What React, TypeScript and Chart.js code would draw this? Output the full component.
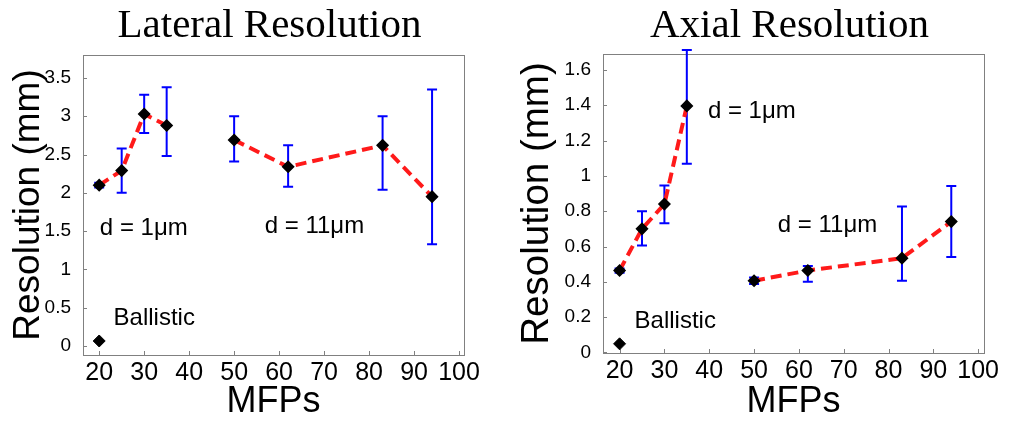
import React, { useEffect, useRef } from "react";
import { Chart, registerables } from "chart.js";
Chart.register(...registerables);

const SANS = "'Liberation Sans', Arial, Helvetica, sans-serif";
const SERIF = "'Liberation Serif', 'Times New Roman', serif";

const xTicks = [20, 30, 40, 50, 60, 70, 80, 90, 100];

// Lateral resolution
const latYTicks = [0, 0.5, 1, 1.5, 2, 2.5, 3, 3.5];
const latD1X = [20, 25, 30, 35];
const latD1Y = [2.1, 2.29, 3.03, 2.88];
const latD1Lo = [2.07, 2.0, 2.78, 2.48];
const latD1Hi = [2.13, 2.58, 3.28, 3.38];
const latD11X = [50, 62, 83, 94];
const latD11Y = [2.69, 2.34, 2.62, 1.95];
const latD11Lo = [2.41, 2.08, 2.04, 1.33];
const latD11Hi = [3.0, 2.62, 3.0, 3.35];
const latBallX = [20];
const latBallY = [0.065];

// Axial resolution
const axYTicks = [0, 0.2, 0.4, 0.6, 0.8, 1, 1.2, 1.4, 1.6];
const axD1X = [20, 25, 30, 35];
const axD1Y = [0.464, 0.7, 0.84, 1.396];
const axD1Lo = [0.452, 0.605, 0.732, 1.068];
const axD1Hi = [0.476, 0.8, 0.945, 1.713];
const axD11X = [50, 62, 83, 94];
const axD11Y = [0.406, 0.464, 0.534, 0.741];
const axD11Lo = [0.388, 0.4, 0.406, 0.54];
const axD11Hi = [0.424, 0.49, 0.826, 0.943];
const axBallX = [20];
const axBallY = [0.049];

// Text annotations (data coordinates, left aligned, baseline)
const latNotes = [
  { text: "d = 1μm", x: 20.15, y: 1.45 },
  { text: "d = 11μm", x: 56.8, y: 1.48 },
  { text: "Ballistic", x: 23.2, y: 0.27 },
];
const axNotes = [
  { text: "d = 1μm", x: 39.7, y: 1.33 },
  { text: "d = 11μm", x: 55.3, y: 0.68 },
  { text: "Ballistic", x: 23.35, y: 0.138 },
];

type Note = { text: string; x: number; y: number };

interface PanelSpec {
  title: string;
  width: number;
  xMin: number;
  xMax: number;
  yMin: number;
  yMax: number;
  yTicks: number[];
  d1: [number[], number[], number[], number[]];
  d11: [number[], number[], number[], number[]];
  ball: [number[], number[]];
  notes: Note[];
  padTop: number;
  padRight: number;
  yAxisWidth: number;
  xAxisHeight: number;
  yTitleSize: number;
  yTitlePad: number;
}

const pts = (xs: number[], ys: number[]) => xs.map((x, i) => ({ x, y: ys[i] }));

function buildConfig(spec: PanelSpec): any {
  const lineDs = (s: [number[], number[], number[], number[]]) => ({
    data: pts(s[0], s[1]),
    lo: s[2],
    hi: s[3],
    showLine: true,
    borderColor: "#ff1a1a",
    borderWidth: 4,
    borderDash: [11, 6],
    pointStyle: "rectRot",
    pointRadius: 5.5,
    pointBackgroundColor: "#000",
    pointBorderColor: "#000",
    pointBorderWidth: 1.5,
  });

  const framePlugin = {
    id: "frame",
    beforeDatasetsDraw(chart: any) {
      const { ctx, chartArea: a, scales } = chart;
      ctx.save();
      ctx.strokeStyle = "#808080";
      ctx.lineWidth = 1;
      ctx.strokeRect(Math.round(a.left) + 0.5, Math.round(a.top) + 0.5, Math.round(a.right - a.left), Math.round(a.bottom - a.top));
      ctx.beginPath();
      for (const v of xTicks) {
        const px = Math.round(scales.x.getPixelForValue(v)) + 0.5;
        ctx.moveTo(px, a.bottom);
        ctx.lineTo(px, a.bottom - 4);
      }
      for (const v of spec.yTicks) {
        const py = Math.round(scales.y.getPixelForValue(v)) + 0.5;
        ctx.moveTo(a.left, py);
        ctx.lineTo(a.left + 4, py);
      }
      ctx.stroke();
      // error bars
      ctx.strokeStyle = "#0000ff";
      ctx.lineWidth = 2;
      chart.data.datasets.forEach((ds: any) => {
        if (!ds.lo) return;
        ds.data.forEach((p: any, i: number) => {
          const px = scales.x.getPixelForValue(p.x);
          const pl = scales.y.getPixelForValue(ds.lo[i]);
          const ph = scales.y.getPixelForValue(ds.hi[i]);
          ctx.beginPath();
          ctx.moveTo(px, pl);
          ctx.lineTo(px, ph);
          ctx.moveTo(px - 5, pl);
          ctx.lineTo(px + 5, pl);
          ctx.moveTo(px - 5, ph);
          ctx.lineTo(px + 5, ph);
          ctx.stroke();
        });
      });
      ctx.restore();
    },
    afterDraw(chart: any) {
      const { ctx, chartArea: a, scales } = chart;
      ctx.save();
      ctx.fillStyle = "#000";
      ctx.font = `41px ${SERIF}`;
      ctx.textAlign = "center";
      ctx.textBaseline = "alphabetic";
      ctx.fillText(spec.title, (a.left + a.right) / 2 - 4, 37);
      ctx.font = `24px ${SANS}`;
      ctx.textAlign = "left";
      for (const n of spec.notes) {
        ctx.fillText(n.text, scales.x.getPixelForValue(n.x), scales.y.getPixelForValue(n.y));
      }
      ctx.restore();
    },
  };

  return {
    type: "scatter",
    data: {
      datasets: [
        lineDs(spec.d1),
        lineDs(spec.d11),
        {
          data: pts(spec.ball[0], spec.ball[1]),
          showLine: false,
          pointStyle: "rectRot",
          pointRadius: 6,
          pointBackgroundColor: "#000",
          pointBorderColor: "#000",
          pointBorderWidth: 1,
        },
      ],
    },
    options: {
      responsive: false,
      animation: false,
      layout: { padding: { left: 0, right: spec.padRight, top: spec.padTop, bottom: 0 } },
      plugins: { legend: { display: false }, tooltip: { enabled: false } },
      scales: {
        x: {
          type: "linear",
          min: spec.xMin,
          max: spec.xMax,
          afterBuildTicks: (s: any) => {
            s.ticks = xTicks.map((v) => ({ value: v }));
          },
          afterFit: (s: any) => {
            s.height = spec.xAxisHeight;
          },
          grid: { display: false },
          border: { display: false },
          ticks: {
            autoSkip: false,
            maxRotation: 0,
            padding: -5,
            color: "#000",
            font: { family: SANS, size: 25 },
            callback: (v: any) => String(v),
          },
          title: {
            display: true,
            text: "MFPs",
            color: "#000",
            font: { family: SANS, size: 36, lineHeight: 1 },
            padding: { top: 0, bottom: 3 },
          },
        },
        y: {
          type: "linear",
          min: spec.yMin,
          max: spec.yMax,
          afterBuildTicks: (s: any) => {
            s.ticks = spec.yTicks.map((v) => ({ value: v }));
          },
          afterFit: (s: any) => {
            s.width = spec.yAxisWidth;
          },
          grid: { display: false },
          border: { display: false },
          ticks: {
            autoSkip: false,
            padding: 4,
            color: "#000",
            font: { family: SANS, size: 19 },
            callback: (v: any) => String(v),
          },
          title: {
            display: true,
            text: "Resolution (mm)",
            color: "#000",
            font: { family: SANS, size: spec.yTitleSize, lineHeight: 1 },
            padding: { top: spec.yTitlePad, bottom: 0 },
          },
        },
      },
    },
    plugins: [framePlugin],
  };
}

const lateral: PanelSpec = {
  title: "Lateral Resolution",
  width: 506,
  xMin: 16.4,
  xMax: 101.1,
  yMin: -0.118,
  yMax: 3.8,
  yTicks: latYTicks,
  d1: [latD1X, latD1Y, latD1Lo, latD1Hi],
  d11: [latD11X, latD11Y, latD11Lo, latD11Hi],
  ball: [latBallX, latBallY],
  notes: latNotes,
  padTop: 55,
  padRight: 42,
  yAxisWidth: 83,
  xAxisHeight: 68,
  yTitleSize: 37,
  yTitlePad: 10.5,
};

const axial: PanelSpec = {
  title: "Axial Resolution",
  width: 507,
  xMin: 16.3,
  xMax: 101.3,
  yMin: -0.003,
  yMax: 1.69,
  yTicks: axYTicks,
  d1: [axD1X, axD1Y, axD1Lo, axD1Hi],
  d11: [axD11X, axD11Y, axD11Lo, axD11Hi],
  ball: [axBallX, axBallY],
  notes: axNotes,
  padTop: 54,
  padRight: 29,
  yAxisWidth: 97,
  xAxisHeight: 70,
  yTitleSize: 38.5,
  yTitlePad: 12,
};

function Panel({ spec, left }: { spec: PanelSpec; left: number }) {
  const ref = useRef<HTMLCanvasElement>(null);
  useEffect(() => {
    const chart = new Chart(ref.current as HTMLCanvasElement, buildConfig(spec));
    return () => chart.destroy();
  }, [spec]);
  return (
    <div style={{ position: "absolute", left, top: 0, width: spec.width, height: 423 }}>
      <canvas ref={ref} width={spec.width} height={423} style={{ width: spec.width, height: 423, display: "block" }} />
    </div>
  );
}

export default function App() {
  return (
    <div style={{ position: "fixed", left: 0, top: 0, width: 1013, height: 423, background: "#fff" }}>
      <Panel spec={lateral} left={0} />
      <Panel spec={axial} left={506} />
    </div>
  );
}
